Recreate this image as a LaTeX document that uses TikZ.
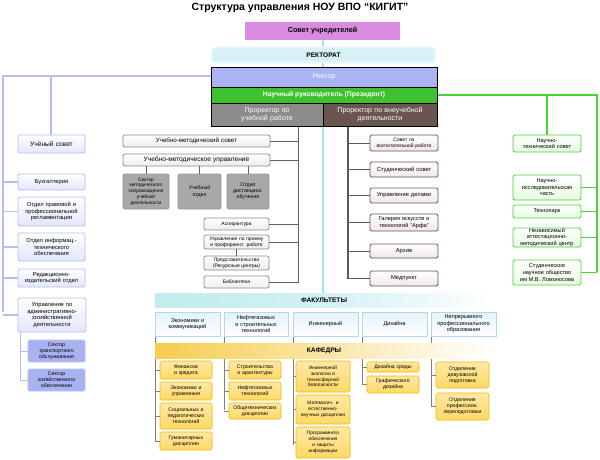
\documentclass[tikz,border=0pt]{standalone}
\usepackage{fontspec}
\setmainfont{Liberation Sans}
\usetikzlibrary{shadows}
\definecolor{bl}{HTML}{B4BEF2}\definecolor{blf}{HTML}{E2E6FC}\definecolor{bld}{HTML}{A9B2F0}
\definecolor{gr}{HTML}{8C8C8C}\definecolor{grf}{HTML}{EDEDED}\definecolor{grd}{HTML}{A8A8A8}
\definecolor{br}{HTML}{6B5550}\definecolor{brf}{HTML}{F0E8E8}
\definecolor{gn}{HTML}{44D633}\definecolor{gnf}{HTML}{E8FBE2}
\definecolor{cy}{HTML}{A6E3EA}\definecolor{fcf}{HTML}{E4F2F9}\definecolor{fcb}{HTML}{B2D8EA}
\definecolor{or}{HTML}{F2B705}\definecolor{orf}{HTML}{FFD966}
\definecolor{vi}{HTML}{D98BE0}
\newcommand\B[7]{\node[box,#1,minimum width={(#5-#3)*1pt},minimum height={(#6-#4)*1pt},text width={(#5-#3-8)*1pt}] (#2) at ({(#3+#5)/2},{(#4+#6)/2}) {#7};}
\begin{document}
\begin{tikzpicture}[x=1pt,y=-1pt,
 box/.style={draw,rounded corners=1.5pt,inner sep=0pt,align=center,font=\fontsize{5.2}{6.2}\selectfont,line width=0.8pt},
 bb/.style={draw=bl,top color=white,bottom color=blf,font=\fontsize{5.8}{6.8}\selectfont},
 bs/.style={draw=bl,fill=bld,font=\fontsize{5.2}{6.2}\selectfont},
 gb/.style={draw=gr,top color=white,bottom color=grf,font=\fontsize{6.2}{7}\selectfont},
 gd/.style={draw=grd!90!black,fill=grd},
 rb/.style={draw=br,top color=white,bottom color=brf},
 nb/.style={draw=gn,top color=white,bottom color=gnf,font=\fontsize{5.6}{6.6}\selectfont},
 fb/.style={draw=fcb,top color=fcf,bottom color=white,rounded corners=0pt,line width=0.5pt,font=\fontsize{5.6}{6.6}\selectfont},
 kb/.style={draw=or,top color=orf!60!white,bottom color=orf,line width=0.6pt},
 lb/.style={draw=bl,line width=1.2pt},
 lg/.style={draw=gr!70!black,line width=1pt},
 lr/.style={draw=br,line width=1.2pt},
 ln/.style={draw=gn,line width=1.4pt},
 lk/.style={draw=gray,line width=0.5pt},
 top/.style={draw=black,line width=0.8pt,inner sep=0pt,align=center,font=\fontsize{7}{8}\selectfont}]
\useasboundingbox[fill=white] (0,0) rectangle (600,460);
\coordinate (cyT) at (323,38);
\coordinate (cyB) at (323,300);
\draw[cy,line width=1.5pt] (cyT) -- (cyB);
\node[font=\bfseries\fontsize{10.5}{12}\selectfont] (title) at (300,8) {Структура управления НОУ ВПО “КИГИТ”};
\node[fill=vi,minimum width=155pt,minimum height=18pt,font=\fontsize{7.2}{8}\selectfont\bfseries,inner sep=0pt] (sovet) at (322.5,31) {Совет учредителей};
\node[inner sep=0pt,minimum width=223pt,minimum height=15pt,fill=cy!45,draw=cy!30,line width=2pt,rounded corners=4pt,font=\fontsize{6.6}{7.6}\selectfont\bfseries] (rekt) at (323.5,55) {РЕКТОРАТ};
\coordinate (bT) at (3,76);\coordinate (bB) at (3,312);\coordinate (b2) at (51,76);
\coordinate (aT) at (20,332);
\draw[lb] (211,76) -- (bT) -- (bB);
\draw[lb] (b2) -- (51,135);
\coordinate (nT) at (597,95);\coordinate (n2) at (547,95);
\draw[ln] (437,95) -- (nT) -- (597,272);
\draw[ln] (n2) -- (547,135);
\coordinate (gT) at (298,126);\coordinate (rT) at (348,126);
\draw[lg] (gT) -- (298,283);
\draw[lr] (rT) -- (348,279);
\node[top,fill=bl!95!blue,text=white,minimum width=226pt,minimum height=20pt] (rektor) at (324,77) {Ректор};
\node[top,fill=gn!90!black,text=white,minimum width=226pt,minimum height=16pt,font=\bfseries\fontsize{6.8}{7.8}\selectfont] (nauch) at (324,95) {Научный руководитель (Президент)};
\node[top,fill=gr,text=white,minimum width=112pt,minimum height=23pt,text width=86pt] (pr1) at (267,114.5) {Проректор по учебной работе};
\node[top,fill=br,text=white,minimum width=114pt,minimum height=23pt,text width=100pt] (pr2) at (380,114.5) {Проректор по внеучебной деятельности};
\B{bb,font=\fontsize{6.6}{7.6}\selectfont}{us}{18}{135}{85}{153}{Учёный совет}
\B{bb}{buh}{18}{174}{85}{190}{Бухгалтерия}
\B{bb}{prav}{18}{197}{85}{226}{Отдел правовой и профессиональной регламентации}
\B{bb}{inf}{18}{233}{85}{261}{Отдел информац.- технического обеспечения}
\B{bb}{red}{18}{269}{85}{287}{Редакционно-издательский отдел}
\B{bb}{adm}{18}{298}{86}{332}{Управление по административно-хозяйственной деятельности}
\B{bs}{s1}{28}{340}{85}{362}{Сектор транспортного обслуживания}
\B{bs}{s2}{28}{369}{85}{391}{Сектор хозяйственного обеспечения}
\foreach \n in {buh,prav,inf,red,adm} \draw[lb] (bT |- \n.west) -- (\n.west);
\draw[lb,line width=0.8pt] (aT) -- (aT |- s2.west) -- (s2.west);
\draw[lb,line width=0.8pt] (aT |- s1.west) -- (s1.west);
\B{gb}{ums}{123}{135}{270}{147}{Учебно-методический совет}
\B{gb,font=\fontsize{6.6}{7.4}\selectfont}{umu}{123}{154}{270}{166}{Учебно-методическое управление}
\B{gd,font=\fontsize{4.8}{5.8}\selectfont}{g1}{123}{174}{169}{209}{Сектор методического сопровождения учебной деятельности}
\B{gd}{g2}{178}{174}{221}{209}{Учебный отдел}
\B{gd}{g3}{227}{174}{269}{209}{Отдел дистанцион. обучения}
\foreach \n in {g1,g2,g3} \draw[lg] (umu.south -| \n.north) -- (\n.north);
\B{gb,font=\fontsize{5}{6}\selectfont,text width=63pt}{asp}{204}{218}{269}{230}{Аспирантура}
\B{gb,font=\fontsize{5}{6}\selectfont,text width=63pt}{upp}{204}{235}{269}{249}{Управление по приему и профориент. работе}
\B{gb,font=\fontsize{5}{6}\selectfont,text width=63pt}{pred}{204}{256}{269}{270}{Представительства (Ресурсные центры)}
\B{gb,font=\fontsize{5}{6}\selectfont,text width=63pt}{bib}{204}{276}{269}{288}{Библиотека}
\draw[lg] (upp.south) -- (pred.north);
\foreach \n in {ums,umu,asp,upp,bib} \draw[lg] (\n.east) -- (gT |- \n.east);
\B{rb,font=\fontsize{5}{6}\selectfont}{r1}{370}{135}{438}{151}{Совет по воспитательной работе}
\B{rb,font=\fontsize{5.8}{6.8}\selectfont}{r2}{370}{162}{438}{177}{Студенческий совет}
\B{rb,font=\fontsize{5.8}{6.8}\selectfont}{r3}{370}{188}{438}{203}{Управление делами}
\B{rb,font=\fontsize{5.6}{6.6}\selectfont,text width=66pt}{r4}{370}{214}{438}{231}{Галерея искусств и технологий "Арфа"}
\B{rb,font=\fontsize{5.8}{6.8}\selectfont}{r5}{370}{244}{438}{258}{Архив}
\B{rb,font=\fontsize{5.8}{6.8}\selectfont}{r6}{370}{271}{438}{286}{Медпункт}
\foreach \n in {r1,r2,r3,r4,r5,r6} \draw[lr,line width=0.8pt] (rT |- \n.west) -- (\n.west);
\B{nb}{g5}{513}{135}{581}{152}{Научно-технический совет}
\B{nb}{n1}{513}{175}{581}{200}{Научно-исследовательская часть}
\B{nb}{n2b}{513}{205}{581}{218}{Технопарк}
\B{nb}{n3}{513}{228}{581}{247}{Независимый аттестационно-методический центр}
\B{nb}{n4}{513}{260}{581}{285}{Студенческое научное общество им М.В. Ломоносова}
\foreach \n in {n1,n2b,n3,n4} \draw[ln] (\n.east) -- (nT |- \n.east);
\foreach \x/\e in {155/441,224/410,293/445,362/384,431/407} \draw[lk] (\x,336) -- (\x,\e);
\node[inner sep=0pt,minimum width=338pt,minimum height=14pt,left color=cy!70,right color=white,middle color=cy!50,font=\bfseries\fontsize{6.6}{7.6}\selectfont] (fak) at (324,300) {ФАКУЛЬТЕТЫ};
\B{fb}{f1}{155}{312}{220}{336}{Экономики и коммуникаций}
\B{fb}{f2}{224}{312}{288}{336}{Нефтегазовых и строительных технологий}
\B{fb}{f3}{293}{312}{358}{336}{Инженерный}
\B{fb}{f4}{362}{312}{427}{336}{Дизайна}
\B{fb,text width=64pt}{f5}{431}{312}{496}{336}{Непрерывного профессионального образования}
\node[inner sep=0pt,minimum width=338pt,minimum height=15pt,left color=or!70,middle color=or!80,right color=white,font=\bfseries\fontsize{6.6}{7.6}\selectfont] (kaf) at (324,350.5) {КАФЕДРЫ};
\B{kb}{k11}{160}{361}{212}{379}{Финансов и кредита}
\B{kb}{k12}{160}{382}{212}{400}{Экономики и управления}
\B{kb}{k13}{160}{403}{212}{429}{Социальных и педагогических технологий}
\B{kb}{k14}{160}{432}{212}{450}{Гуманитарных дисциплин}
\B{kb}{k21}{229}{361}{281}{379}{Строительства и архитектуры}
\B{kb}{k22}{229}{382}{281}{400}{Нефтегазовых технологий}
\B{kb}{k23}{229}{403}{281}{419}{Общетехнических дисциплин}
\B{kb,font=\fontsize{4.8}{5.8}\selectfont}{k31}{296}{361}{350}{392}{Инженерной экологии и техносферной безопасности}
\B{kb,font=\fontsize{4.8}{5.8}\selectfont}{k32}{296}{395}{350}{424}{Математич. и естественно-научных дисциплин}
\B{kb,font=\fontsize{4.8}{5.8}\selectfont}{k33}{296}{427}{350}{458}{Программного обеспечения и защиты информации}
\B{kb,text width=50pt}{k41}{367}{362}{419}{372}{Дизайна среды}
\B{kb}{k42}{367}{376}{419}{393}{Графического дизайна}
\B{kb}{k51}{436}{362}{489}{388}{Отделение довузовской подготовки}
\B{kb}{k52}{436}{393}{489}{420}{Отделение профессион. переподготовки}
\foreach \n/\x in {k11/155,k12/155,k13/155,k14/155,k21/224,k22/224,k23/224,k31/293,k32/293,k33/293,k41/362,k42/362,k51/431,k52/431}
  \draw[lk] (\x,0 |- \n.west) -- (\n.west);
\end{tikzpicture}
\end{document}
